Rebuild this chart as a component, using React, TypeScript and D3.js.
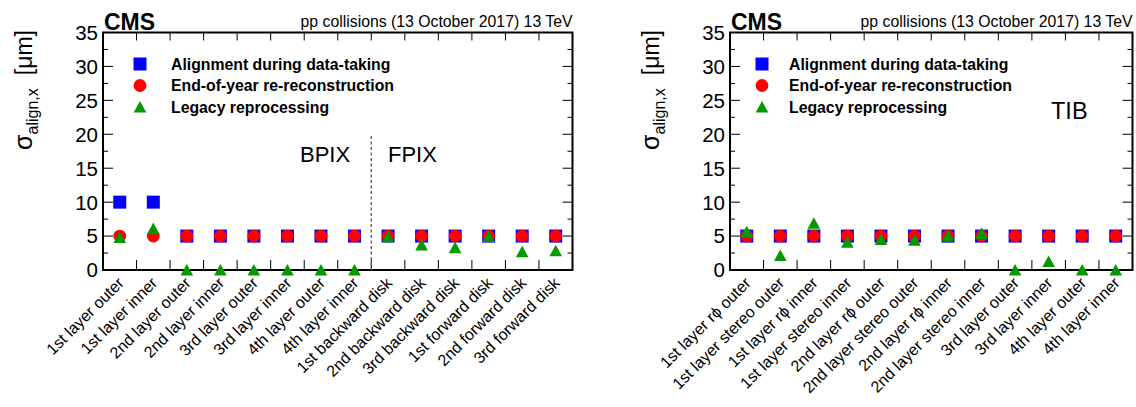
import React from "react";
import * as d3 from "d3";

const FONT = "'Liberation Sans', Arial, Helvetica, sans-serif";

// Left panel (pixel detector)
const pixelCategories = [
  "1st layer outer", "1st layer inner", "2nd layer outer", "2nd layer inner",
  "3rd layer outer", "3rd layer inner", "4th layer outer", "4th layer inner",
  "1st backward disk", "2nd backward disk", "3rd backward disk",
  "1st forward disk", "2nd forward disk", "3rd forward disk",
];
const pixelAlignment = [10, 10, 5, 5, 5, 5, 5, 5, 5, 5, 5, 5, 5, 5];
const pixelEOY = [5, 5, 5, 5, 5, 5, 5, 5, 5, 5, 5, 5, 5, 5];
const pixelLegacy = [4.8, 6.1, 0, 0, 0, 0, 0, 0, 4.9, 3.7, 3.3, 4.95, 2.7, 2.85];

// Right panel (TIB)
const tibCategories = [
  "1st layer rϕ outer", "1st layer stereo outer", "1st layer rϕ inner", "1st layer stereo inner",
  "2nd layer rϕ outer", "2nd layer stereo outer", "2nd layer rϕ inner", "2nd layer stereo inner",
  "3rd layer outer", "3rd layer inner", "4th layer outer", "4th layer inner",
];
const tibAlignment = [5, 5, 5, 5, 5, 5, 5, 5, 5, 5, 5, 5];
const tibEOY = [5, 5, 5, 5, 5, 5, 5, 5, 5, 5, 5, 5];
const tibLegacy = [5.65, 2.15, 6.9, 4.1, 4.5, 4.4, 5.05, 5.4, 0, 1.25, 0, 0];

const yTicks = [0, 5, 10, 15, 20, 25, 30, 35];
const legendLabels = [
  "Alignment during data-taking",
  "End-of-year re-reconstruction",
  "Legacy reprocessing",
];

const BLUE = "#0000ff";
const RED = "#ff0000";
const GREEN = "#009900";

const TOP = 32.5;
const BOTTOM = 270;

type PanelProps = {
  left: number;
  right: number;
  categories: string[];
  s1: number[];
  s2: number[];
  s3: number[];
  legendMarkerX: number;
  legendTextX: number;
  children?: React.ReactNode;
};

function Square({ x, y }: { x: number; y: number }) {
  return <rect x={x - 6.5} y={y - 6.5} width={13} height={13} fill={BLUE} />;
}
function Circle({ x, y }: { x: number; y: number }) {
  return <circle cx={x} cy={y} r={6.4} fill={RED} />;
}
function Triangle({ x, y }: { x: number; y: number }) {
  return (
    <path
      d={`M${x},${y - 6}L${x + 6.3},${y + 5.6}L${x - 6.3},${y + 5.6}Z`}
      fill={GREEN}
    />
  );
}

function Panel(p: PanelProps) {
  const x = d3
    .scaleBand<string>()
    .domain(p.categories)
    .range([p.left, p.right])
    .padding(0);
  const y = d3.scaleLinear().domain([0, 35]).range([BOTTOM, TOP]);
  const bw = x.bandwidth();
  const cx = (c: string) => (x(c) as number) + bw / 2;
  const minor = d3.range(0, 35.01, 2.5);
  const bounds = p.categories.slice(1).map((c) => x(c) as number);

  return (
    <g>
      {/* header */}
      <text x={p.left + 1} y={30} fontFamily={FONT} fontWeight="bold" fontSize={23} fill="#000">
        CMS
      </text>
      <text x={p.right} y={27} fontFamily={FONT} fontSize={15.8} textAnchor="end" fill="#000">
        pp collisions (13 October 2017) 13 TeV
      </text>

      {/* y title */}
      <text
        transform={`translate(${p.left - 71},30) rotate(-90)`}
        fontFamily={FONT}
        textAnchor="end"
        fill="#000"
      >
        <tspan fontSize={25}>σ</tspan>
        <tspan fontSize={16} dy={6}>align,x</tspan>
        <tspan fontSize={23} dy={-6} dx={13}>[μm]</tspan>
      </text>

      {/* y tick labels */}
      {yTicks.map((t) => (
        <text
          key={t}
          x={p.left - 5}
          y={y(t)}
          dy="0.36em"
          fontFamily={FONT}
          fontSize={20.5}
          textAnchor="end"
          fill="#000"
        >
          {t}
        </text>
      ))}

      {/* ticks */}
      {minor.map((t) => {
        const len = t % 5 === 0 ? 10 : 5;
        return (
          <g key={t} stroke="#000" strokeWidth={1}>
            <line x1={p.left} x2={p.left + len} y1={y(t)} y2={y(t)} />
            <line x1={p.right} x2={p.right - len} y1={y(t)} y2={y(t)} />
          </g>
        );
      })}
      {bounds.map((b, i) => (
        <g key={i} stroke="#000" strokeWidth={1}>
          <line x1={b} x2={b} y1={BOTTOM} y2={BOTTOM - 10} />
          <line x1={b} x2={b} y1={TOP} y2={TOP + 8} />
        </g>
      ))}

      {/* frame */}
      <rect
        x={p.left}
        y={TOP}
        width={p.right - p.left}
        height={BOTTOM - TOP}
        fill="none"
        stroke="#000"
        strokeWidth={2}
      />

      {p.children}

      {/* x labels */}
      {p.categories.map((c) => (
        <text
          key={c}
          transform={`translate(${cx(c) + 5},${284}) rotate(-45)`}
          fontFamily={FONT}
          fontSize={16}
          textAnchor="end"
          fill="#000"
        >
          {c}
        </text>
      ))}

      {/* legend */}
      {legendLabels.map((l, i) => {
        const ly = 64 + i * 21.5;
        return (
          <g key={l}>
            {i === 0 && <Square x={p.legendMarkerX} y={ly} />}
            {i === 1 && <Circle x={p.legendMarkerX} y={ly} />}
            {i === 2 && <Triangle x={p.legendMarkerX} y={ly} />}
            <text
              x={p.legendTextX}
              y={ly}
              dy="0.36em"
              fontFamily={FONT}
              fontWeight="bold"
              fontSize={15.8}
              fill="#000"
            >
              {l}
            </text>
          </g>
        );
      })}

      {/* data */}
      {p.categories.map((c, i) => (
        <Square key={"s" + c} x={cx(c)} y={y(p.s1[i])} />
      ))}
      {p.categories.map((c, i) => (
        <Circle key={"c" + c} x={cx(c)} y={y(p.s2[i])} />
      ))}
      {p.categories.map((c, i) => (
        <Triangle key={"t" + c} x={cx(c)} y={y(p.s3[i])} />
      ))}
    </g>
  );
}

export default function App() {
  const leftL = 103;
  const leftR = 572.5;
  const rightL = 730;
  const rightR = 1132.5;
  const xl = d3.scaleBand<string>().domain(pixelCategories).range([leftL, leftR]);
  const divider = xl(pixelCategories[8]) as number;
  return (
    <svg
      width={1136}
      height={407}
      style={{ position: "absolute", left: 0, top: 0, background: "#fff" }}
    >
      <rect x={0} y={0} width={1136} height={407} fill="#fff" />
      <Panel
        left={leftL}
        right={leftR}
        categories={pixelCategories}
        s1={pixelAlignment}
        s2={pixelEOY}
        s3={pixelLegacy}
        legendMarkerX={140}
        legendTextX={171}
      >
        <line
          x1={divider}
          x2={divider}
          y1={136}
          y2={270}
          stroke="#666"
          strokeWidth={1.5}
          strokeDasharray="3,2.5"
        />
        <text x={300} y={162} fontFamily={FONT} fontSize={22} fill="#000">
          BPIX
        </text>
        <text x={388} y={162} fontFamily={FONT} fontSize={22} fill="#000">
          FPIX
        </text>
      </Panel>
      <Panel
        left={rightL}
        right={rightR}
        categories={tibCategories}
        s1={tibAlignment}
        s2={tibEOY}
        s3={tibLegacy}
        legendMarkerX={762}
        legendTextX={789}
      >
        <text x={1051} y={119} fontFamily={FONT} fontSize={23.5} fill="#000">
          TIB
        </text>
      </Panel>
    </svg>
  );
}
